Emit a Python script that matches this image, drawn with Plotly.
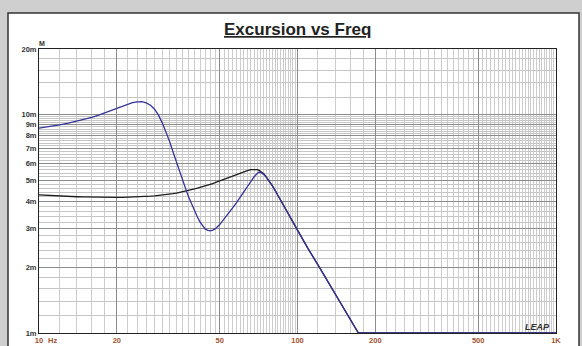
import plotly.graph_objects as go

# Frequency points (Hz) and cone excursion (m) for the two curves
freq = [10, 11, 12, 13, 14, 15, 16, 17, 18, 19, 20, 21, 22, 23, 24, 25, 26, 27,
        28, 29, 30, 31, 32, 33, 34, 35, 36, 37, 38, 39, 40, 41, 42, 43, 44, 45,
        46, 47, 48, 50, 52, 54, 56, 58, 60, 62, 64, 66, 68, 70, 71, 72, 74, 76,
        78, 80, 83, 86, 90, 95, 100, 105, 110, 120, 130, 140, 150, 160, 172,
        200, 300, 500, 1000]

exc_vented = [8.68, 8.82, 8.98, 9.15, 9.33, 9.52, 9.73, 9.96, 10.2, 10.45, 10.7,
              10.95, 11.17, 11.35, 11.46, 11.47, 11.33, 11.05, 10.6, 9.95, 9.15,
              8.35, 7.55, 6.75, 6.05, 5.5, 5.0, 4.55, 4.18, 3.87, 3.62, 3.4, 3.22,
              3.08, 2.99, 2.95, 2.94, 2.96, 3.0, 3.14, 3.32, 3.52, 3.73, 3.95,
              4.2, 4.45, 4.7, 4.95, 5.2, 5.4, 5.45, 5.44, 5.33, 5.15, 4.93, 4.72,
              4.38, 4.05, 3.68, 3.3, 2.96, 2.67, 2.43, 2.05, 1.75, 1.51, 1.32,
              1.16, 1.0, 1.0, 1.0, 1.0, 1.0]

exc_sealed = [4.29, 4.26, 4.24, 4.22, 4.21, 4.2, 4.19, 4.185, 4.18, 4.18, 4.18,
              4.185, 4.19, 4.195, 4.2, 4.21, 4.22, 4.235, 4.25, 4.265, 4.28,
              4.3, 4.32, 4.345, 4.37, 4.4, 4.43, 4.465, 4.5, 4.535, 4.57, 4.605,
              4.64, 4.68, 4.72, 4.76, 4.8, 4.84, 4.88, 4.97, 5.05, 5.15, 5.25,
              5.34, 5.42, 5.49, 5.55, 5.6, 5.62, 5.6, 5.56, 5.5, 5.36, 5.15,
              4.93, 4.72, 4.38, 4.05, 3.68, 3.3, 2.96, 2.67, 2.43, 2.05, 1.75,
              1.51, 1.32, 1.16, 1.0, 1.0, 1.0, 1.0, 1.0]

# Axis labels
x_tick_vals = [10, 20, 50, 100, 200, 500, 1000]
x_tick_text = ["10", "20", "50", "100", "200", "500", "1K"]
y_tick_vals_mm = [1, 2, 3, 4, 5, 6, 7, 8, 9, 10, 20]
y_tick_text = ["1m", "2m", "3m", "4m", "5m", "6m", "7m", "8m", "9m", "10m", "20m"]

# Grid structure: fine lines every 0.2 of a decade unit, medium at whole units
x_minor = [10 + 2 * i for i in range(46)] + [100 + 20 * i for i in range(46)]
x_medium = [v for v in list(range(10, 100, 10)) + list(range(100, 1001, 100))
            if v not in x_tick_vals]
y_minor_mm = [round(1 + 0.2 * i, 1) for i in range(46)] + [10 + 2 * i for i in range(6)]

to_m = lambda vals: [v / 1000.0 for v in vals]

# Plot area geometry in pixels
W, H = 582, 346
L, R, T, B = 39, 556, 49, 333
pw, ph = R - L, B - T

fig = go.Figure()
fig.add_trace(go.Scatter(x=freq, y=to_m(exc_sealed), mode="lines",
                         line=dict(color="#1c1c1c", width=1.3), hoverinfo="skip"))
fig.add_trace(go.Scatter(x=freq, y=to_m(exc_vented), mode="lines",
                         line=dict(color="#34349a", width=1.3), hoverinfo="skip"))

# Medium-weight vertical grid lines at whole multiples
for v in x_medium:
    fig.add_shape(type="line", xref="x", yref="paper", x0=v, x1=v, y0=0, y1=1,
                  line=dict(color="#a8a8a8", width=1), layer="between")

# White panel with dark frame on grey page
fig.add_shape(type="rect", xref="paper", yref="paper",
              x0=(8 - L) / pw, x1=(579 - L) / pw,
              y0=(B - 360) / ph, y1=(B - 13) / ph,
              fillcolor="white", line=dict(color="#333333", width=1.5), layer="below")

font_fam = "Liberation Sans, Arial, sans-serif"

fig.update_xaxes(
    type="log", range=[1, 3], automargin=False,
    tickmode="array", tickvals=x_tick_vals, ticktext=x_tick_text,
    ticks="", showgrid=True, gridcolor="#8c8c8c", gridwidth=1,
    showline=True, linecolor="#222222", linewidth=1, mirror=True,
    tickfont=dict(family=font_fam, size=7.5, color="#a0522d", weight="bold"),
    minor=dict(tickmode="array", tickvals=x_minor, showgrid=True,
               gridcolor="#cdcdcd", gridwidth=1, ticks=""),
    zeroline=False,
)
fig.update_yaxes(
    type="log", range=[-3, -3 + 1.30103], automargin=False,
    tickmode="array", tickvals=to_m(y_tick_vals_mm), ticktext=y_tick_text,
    ticks="", showgrid=True, gridcolor="#8c8c8c", gridwidth=1,
    showline=True, linecolor="#222222", linewidth=1, mirror=True,
    tickfont=dict(family=font_fam, size=7.5, color="#333333", weight="bold"),
    minor=dict(tickmode="array", tickvals=to_m(y_minor_mm), showgrid=True,
               gridcolor="#c6c6c6", gridwidth=1, ticks=""),
    zeroline=False,
)

fig.add_annotation(text="<u>Excursion vs Freq</u>", xref="paper", yref="paper",
                   x=0.5, y=(B - 30) / ph, xanchor="center", yanchor="middle",
                   showarrow=False,
                   font=dict(family=font_fam, size=17, color="#222222", weight="bold"))
fig.add_annotation(text="M", xref="paper", yref="paper",
                   x=(42 - L) / pw, y=(B - 44) / ph, xanchor="center", yanchor="middle",
                   showarrow=False,
                   font=dict(family=font_fam, size=7, color="#333333", weight="bold"))
fig.add_annotation(text="Hz", xref="paper", yref="paper",
                   x=(52.5 - L) / pw, y=(B - 340.5) / ph, xanchor="center", yanchor="middle",
                   showarrow=False,
                   font=dict(family=font_fam, size=7.5, color="#a0522d", weight="bold"))
fig.add_annotation(text="<i>LEAP</i>", xref="paper", yref="paper",
                   x=(537 - L) / pw, y=(B - 327) / ph, xanchor="center", yanchor="middle",
                   showarrow=False,
                   font=dict(family=font_fam, size=9, color="#333333", weight="bold"))

fig.update_layout(
    width=W, height=H,
    margin=dict(l=L, r=W - R, t=T, b=H - B, pad=0),
    paper_bgcolor="#cfcfcf", plot_bgcolor="rgba(0,0,0,0)",
    showlegend=False,
)

fig.write_html("out.html")
